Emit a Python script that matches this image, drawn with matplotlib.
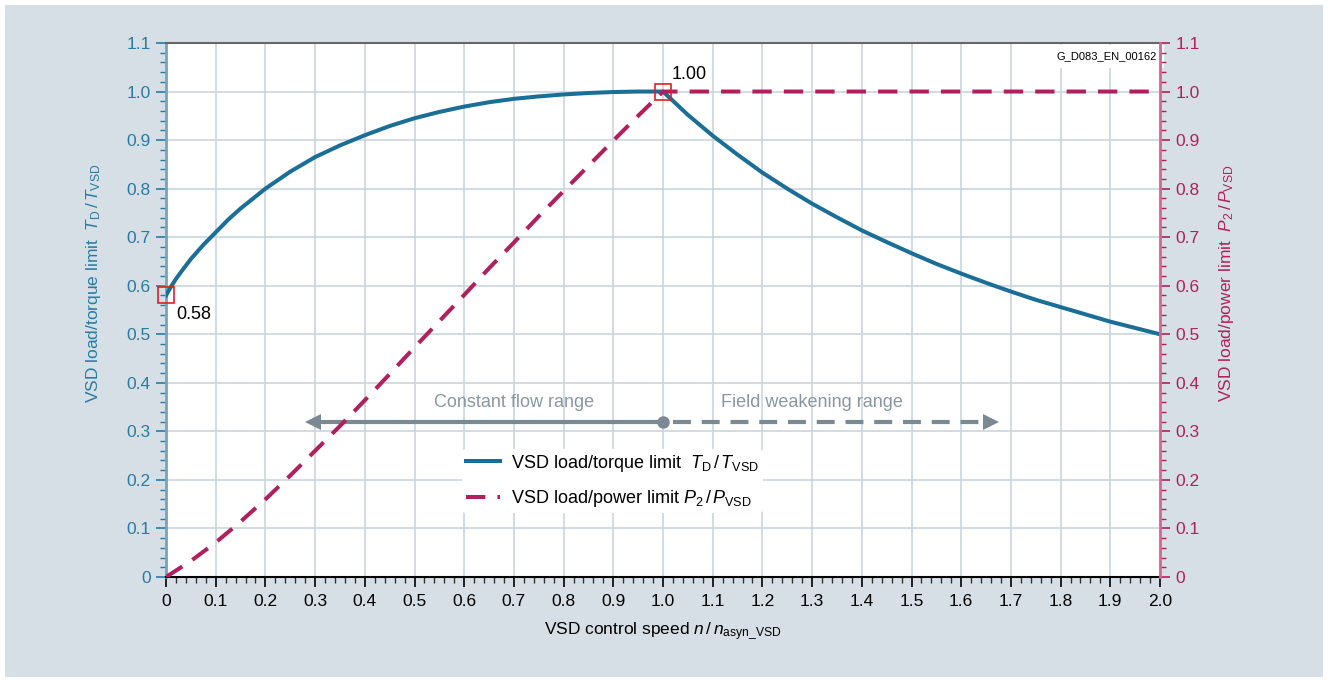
import matplotlib
matplotlib.use("Agg")
import matplotlib.pyplot as plt
from matplotlib.patches import Rectangle
import numpy as np

plt.rcParams['font.family'] = ['Liberation Sans', 'DejaVu Sans']
plt.rcParams['mathtext.fontset'] = 'custom'
plt.rcParams['mathtext.rm'] = 'Liberation Sans'
plt.rcParams['mathtext.it'] = 'Liberation Sans:italic'

# values
speed = [0, 0.01, 0.02, 0.03, 0.05, 0.075, 0.1, 0.125, 0.15, 0.2, 0.25, 0.3, 0.35, 0.4, 0.45,
         0.5, 0.55, 0.6, 0.65, 0.7, 0.75, 0.8, 0.85, 0.9, 0.95, 1.0,
         1.05, 1.1, 1.15, 1.2, 1.25, 1.3, 1.35, 1.4, 1.45, 1.5, 1.55, 1.6, 1.65, 1.7,
         1.75, 1.8, 1.85, 1.9, 1.95, 2.0]
torque = [0.58, 0.598, 0.614, 0.628, 0.655, 0.684, 0.71, 0.736, 0.759, 0.80, 0.835, 0.865,
          0.889, 0.91, 0.929, 0.945, 0.958, 0.969, 0.978, 0.985, 0.990, 0.994, 0.997, 0.999,
          1.0, 1.0,
          0.952, 0.909, 0.870, 0.833, 0.800, 0.769, 0.741, 0.714, 0.690, 0.667, 0.645, 0.625,
          0.606, 0.588, 0.571, 0.556, 0.541, 0.526, 0.513, 0.5]
power_x = [0, 0.05, 0.1, 0.15, 0.2, 0.25, 0.3, 0.35, 0.4, 0.45, 0.5, 0.55, 0.6, 0.65, 0.7,
           0.75, 0.8, 0.85, 0.9, 0.95, 1.0, 2.0]
power = [0.0, 0.033, 0.071, 0.114, 0.16, 0.209, 0.26, 0.311, 0.364, 0.418, 0.473, 0.527,
         0.581, 0.636, 0.689, 0.743, 0.795, 0.847, 0.899, 0.95, 1.0, 1.0]

marked_x = [0.0, 1.0]
marked_y = [0.58, 1.0]
marked_txt = ["0.58", "1.00"]

range_y = 0.32
const_range = [0.3, 1.0]
weak_range = [1.0, 1.66]
range_labels = ["Constant flow range", "Field weakening range"]
range_label_x = [0.70, 1.30]

x_ticks = np.round(np.arange(0, 2.01, 0.1), 1)
y_ticks = np.round(np.arange(0, 1.11, 0.1), 1)

blue = '#1b6e96'
blue_txt = '#2a7ba3'
red = '#b1205e'
gray = '#7b8a92'
gray_txt = '#8a979e'
grid_c = '#c9d5dd'


def fmt(v):
    return "0" if v == 0 else "%.1f" % v


def main():
    fig = plt.figure(figsize=(13.28, 6.8), dpi=100)
    fig.patch.set_facecolor('white')
    fig.patches.append(Rectangle((5 / 1328, 3 / 680), 1318 / 1328, 672 / 680,
                                 transform=fig.transFigure, facecolor='#d5dfe5',
                                 edgecolor='none', zorder=-10))

    ax = fig.add_axes([166 / 1328, 1 - 577 / 680, 994 / 1328, 534 / 680])
    ax.set_facecolor('white')
    ax.set_xlim(0, 2.0)
    ax.set_ylim(0, 1.1)

    ax.set_xticks(x_ticks)
    ax.set_xticklabels([fmt(v) for v in x_ticks])
    ax.set_xticks(np.arange(0, 2.001, 0.02), minor=True)
    ax.set_yticks(y_ticks)
    ax.set_yticklabels([fmt(v) for v in y_ticks])
    ax.set_yticks(np.arange(0, 1.101, 0.02), minor=True)
    ax.grid(True, which='major', color=grid_c, lw=1.2, zorder=0)
    ax.set_axisbelow(True)

    ax.tick_params(axis='x', which='major', length=7, width=1.2, colors='black',
                   labelsize=12.5, pad=5)
    ax.tick_params(axis='x', which='minor', length=4, width=1, colors='#333333')
    ax.tick_params(axis='y', which='major', length=7, width=1.2, colors=blue_txt,
                   labelsize=12.5, pad=4)
    ax.tick_params(axis='y', which='minor', length=4, width=1, colors=blue_txt)

    ax.spines['left'].set_color('#6ea6c2')
    ax.spines['left'].set_linewidth(2)
    ax.spines['bottom'].set_color('black')
    ax.spines['bottom'].set_linewidth(1.5)
    ax.spines['top'].set_color('#666666')
    ax.spines['top'].set_linewidth(1.5)
    ax.spines['right'].set_visible(False)

    ax.set_xlabel(r"VSD control speed $n\,/\,n_{\mathrm{asyn\_VSD}}$", fontsize=12.5, labelpad=8)
    ax.set_ylabel(r"VSD load/torque limit  $T_{\mathrm{D}}\,/\,T_{\mathrm{VSD}}$",
                  fontsize=12.5, color=blue_txt)
    ax.yaxis.set_label_coords(-0.063, 0.55)

    ax2 = ax.twinx()
    ax2.set_ylim(0, 1.1)
    ax2.set_yticks(y_ticks)
    ax2.set_yticklabels([fmt(v) for v in y_ticks])
    ax2.set_yticks(np.arange(0, 1.101, 0.02), minor=True)
    ax2.tick_params(axis='y', which='major', length=7, width=1.2, colors=red,
                    labelsize=12.5, pad=4)
    ax2.tick_params(axis='y', which='minor', length=4, width=1, colors=red)
    for s in ['left', 'top', 'bottom']:
        ax2.spines[s].set_visible(False)
    ax2.spines['right'].set_color('#c76d95')
    ax2.spines['right'].set_linewidth(2)
    ax2.set_ylabel(r"VSD load/power limit  $P_2\,/\,P_{\mathrm{VSD}}$",
                   fontsize=12.5, color=red)
    ax2.yaxis.set_label_coords(1.057, 0.55)

    # range arrows
    ax.plot(const_range, [range_y, range_y], color=gray, lw=3, solid_capstyle='butt', zorder=3)
    ax.plot(const_range[0] - 0.005, range_y, marker='<', ms=12, color=gray, mew=0, zorder=3)
    ax.plot([weak_range[0] + 0.02, weak_range[1] - 0.02], [range_y, range_y], color=gray, lw=3,
            dashes=(4.3, 2.6), zorder=3)
    ax.plot(weak_range[1], range_y, marker='>', ms=12, color=gray, mew=0, zorder=3)
    ax.plot(const_range[1], range_y, marker='o', ms=9, color=gray, mew=0, zorder=4)
    for lx, lab in zip(range_label_x, range_labels):
        ax.text(lx, range_y + 0.022, lab, color=gray_txt, fontsize=13, ha='center', va='bottom')

    # curves
    l1, = ax.plot(speed, torque, color=blue, lw=2.9, zorder=5,
                  label=r"VSD load/torque limit  $T_{\mathrm{D}}\,/\,T_{\mathrm{VSD}}$")
    l2, = ax.plot(power_x, power, color=red, lw=2.9, dashes=(4.8, 3.0), zorder=5,
                  label=r"VSD load/power limit $P_2\,/\,P_{\mathrm{VSD}}$")

    ax.plot(marked_x, marked_y, ls='none', marker='s', ms=11.5, mfc='none', mec='#e0201e',
            mew=1.2, zorder=6, clip_on=False)
    ax.text(marked_x[0] + 0.02, marked_y[0] - 0.022, marked_txt[0], fontsize=13,
            ha='left', va='top')
    ax.text(marked_x[1] + 0.018, marked_y[1] + 0.018, marked_txt[1], fontsize=13,
            ha='left', va='bottom')

    ax.text(0.997, 0.985, "G_D083_EN_00162", transform=ax.transAxes, fontsize=8,
            ha='right', va='top', backgroundcolor='white', zorder=7)

    leg = ax.legend(handles=[l1, l2], loc='center left', bbox_to_anchor=(0.289, 0.18),
                    frameon=True, fontsize=13, handlelength=1.9, labelspacing=0.8,
                    borderpad=0.2, handletextpad=0.6)
    leg.get_frame().set_facecolor('white')
    leg.get_frame().set_edgecolor('none')
    leg.get_frame().set_alpha(1)
    leg.set_zorder(8)

    fig.savefig("out.png", dpi=100, facecolor=fig.get_facecolor())


if __name__ == '__main__':
    main()
